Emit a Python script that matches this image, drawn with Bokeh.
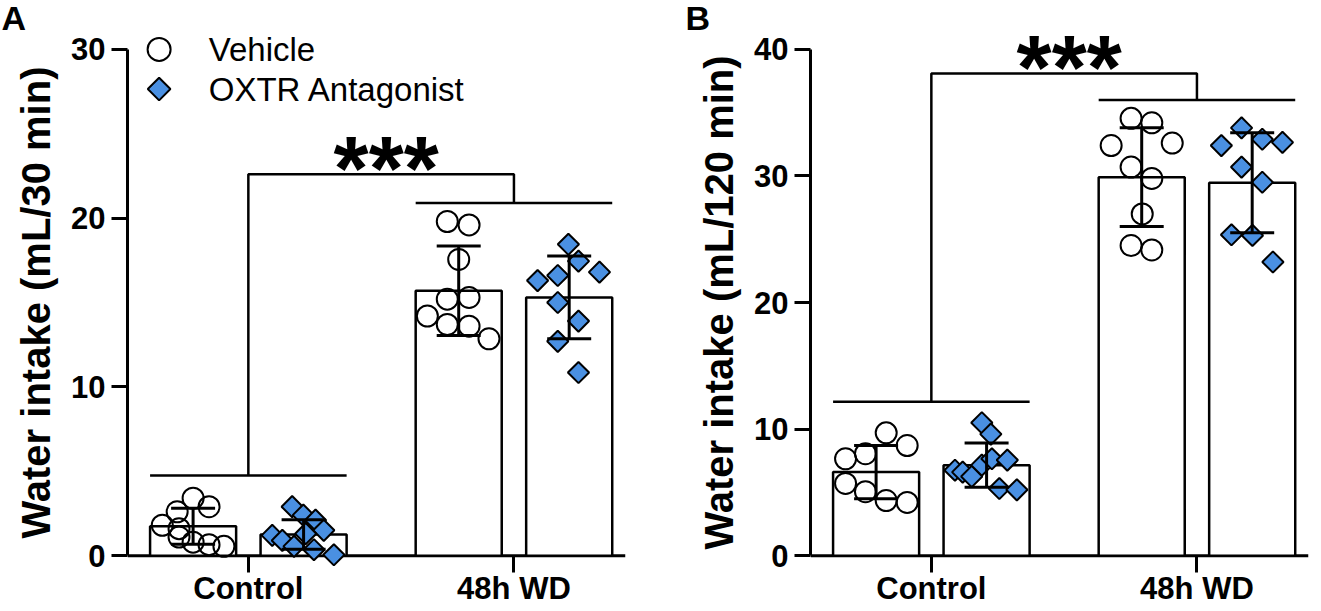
import numpy as np
from bokeh.plotting import figure
from bokeh.models import (ColumnDataSource, FixedTicker, Span, Whisker, TeeHead, Range1d)
from bokeh.layouts import row
from bokeh.embed import file_html
from bokeh.resources import INLINE
from bokeh.core.properties import value

groups = ["Control", "48h WD"]
series = ["Vehicle", "OXTR Antagonist"]

# ---------------- Panel A: Water intake (mL/30 min) ----------------
a_veh_control = [3.4, 2.9, 2.6, 1.8, 1.6, 0.8, 0.65, 0.55, 1.1]
a_veh_control_jitter = [0.0, 0.06, -0.06, -0.116, -0.053, 0.0, 0.06, 0.116, -0.053]
a_veh_wd = [19.8, 19.6, 17.55, 15.2, 15.3, 14.2, 13.7, 13.6, 12.85]
a_veh_wd_jitter = [-0.043, 0.039, 0.0, -0.043, 0.039, -0.118, -0.043, 0.039, 0.114]
a_ox_control = [2.9, 2.4, 2.1, 1.5, 1.2, 0.9, 0.55, 1.3, 0.35, 0.05]
a_ox_control_jitter = [-0.043, -0.001, 0.045, 0.076, -0.118, -0.08, -0.036, 0.008, 0.039, 0.114]
a_ox_wd = [18.45, 17.45, 16.8, 16.3, 16.6, 15.0, 13.9, 12.7, 10.85]
a_ox_wd_jitter = [-0.003, 0.035, 0.114, -0.119, -0.043, -0.043, 0.035, -0.043, 0.035]
a_veh_mean = [1.74, 15.7]
a_veh_sd = [1.07, 2.65]
a_ox_mean = [1.25, 15.3]
a_ox_sd = [0.87, 2.45]
a_bracket_groups = [4.75, 20.9]
a_bracket_top = 22.6
a_yticks = [0, 10, 20, 30]

# ---------------- Panel B: Water intake (mL/120 min) ----------------
b_veh_control = [9.7, 8.7, 7.65, 8.05, 5.7, 5.05, 4.35, 4.2]
b_veh_control_jitter = [0.038, 0.117, -0.115, -0.04, -0.115, -0.04, 0.038, 0.117]
b_veh_wd = [34.55, 34.2, 32.4, 32.6, 30.7, 29.8, 27.0, 24.5, 24.15]
b_veh_wd_jitter = [-0.04, 0.038, -0.115, 0.115, -0.04, 0.038, 0.002, -0.04, 0.038]
b_ox_control = [10.5, 9.6, 6.75, 6.6, 6.25, 7.15, 7.65, 7.55, 5.3, 5.2]
b_ox_control_jitter = [-0.018, 0.016, -0.119, -0.09, -0.056, -0.018, 0.02, 0.078, 0.048, 0.114]
b_ox_wd = [33.8, 32.9, 32.65, 32.4, 30.7, 29.5, 25.35, 25.3, 23.2]
b_ox_wd_jitter = [-0.04, 0.038, 0.114, -0.116, -0.04, 0.038, -0.078, 0.001, 0.078]
b_veh_mean = [6.6, 29.9]
b_veh_sd = [2.1, 3.9]
b_ox_mean = [7.15, 29.46]
b_ox_sd = [1.75, 3.95]
b_bracket_groups = [12.15, 36.0]
b_bracket_top = 38.1
b_yticks = [0, 10, 20, 30, 40]

FONT = "Liberation Sans"
BLUE = "#4A90E2"
BAR_OFFSET = 0.208
BAR_WIDTH = 0.324
FRAME_W = 498
HEIGHT = 608
TOP_BORDER = 31
BOTTOM_BORDER = 33
PX_TICK = 17.0  # px from x-axis line to frame bottom / from y max to frame top


def make_panel(letter, ylabel, yticks, ppu, veh_pts, veh_jit, ox_pts, ox_jit,
               veh_mean, veh_sd, ox_mean, ox_sd, br_groups, br_top,
               left_border, right_border, title_offset, legend=False):
    ymax = yticks[-1]
    pad = PX_TICK / ppu
    p = figure(width=left_border + FRAME_W + right_border, height=HEIGHT,
               x_range=Range1d(-0.455, 1.42), y_range=Range1d(-pad, ymax + pad),
               output_backend="svg", toolbar_location=None,
               min_border_left=left_border, min_border_right=right_border,
               min_border_top=TOP_BORDER, min_border_bottom=BOTTOM_BORDER)
    p.outline_line_color = None
    p.xgrid.visible = False
    p.ygrid.visible = False
    p.background_fill_color = None
    p.border_fill_color = "white"

    p.title.text = letter
    p.title.align = "left"
    p.title.offset = title_offset
    p.title.standoff = -8
    p.title.text_font = FONT
    p.title.text_font_style = "bold"
    p.title.text_font_size = "34px"
    p.title.text_color = "black"

    gx = list(range(len(groups)))

    # bars
    bar_src = ColumnDataSource(dict(
        x=[g - BAR_OFFSET for g in gx] + [g + BAR_OFFSET for g in gx],
        top=list(veh_mean) + list(ox_mean)))
    p.vbar(x="x", top="top", bottom=0, width=BAR_WIDTH, source=bar_src,
           fill_color="white", line_color="black", line_width=2.5)

    # points
    vx, vy, ox, oy = [], [], [], []
    for g in gx:
        vx += [g - BAR_OFFSET + j for j in veh_jit[g]]
        vy += list(veh_pts[g])
        ox += [g + BAR_OFFSET + j for j in ox_jit[g]]
        oy += list(ox_pts[g])
    p.scatter(vx, vy, marker="circle", size=21, fill_color=None,
              line_color="black", line_width=2)
    p.scatter(ox, oy, marker="square", size=15, angle=np.pi / 4,
              fill_color=BLUE, line_color="black", line_width=2)

    # mean +/- SD
    means = list(veh_mean) + list(ox_mean)
    sds = list(veh_sd) + list(ox_sd)
    err_src = ColumnDataSource(dict(
        x=bar_src.data["x"],
        upper=[m + s for m, s in zip(means, sds)],
        lower=[m - s for m, s in zip(means, sds)]))
    w = Whisker(source=err_src, base="x", upper="upper", lower="lower",
                line_color="black", line_width=3, level="annotation",
                upper_head=TeeHead(size=44, line_width=3, line_color="black"),
                lower_head=TeeHead(size=44, line_width=3, line_color="black"))
    p.add_layout(w)

    # x axis line at y = 0
    p.add_layout(Span(location=0, dimension="width", line_color="black",
                      line_width=3, level="underlay"))

    # significance bracket
    half = BAR_OFFSET + BAR_WIDTH / 2
    xs = [[gx[0] - half, gx[0] + half],
          [gx[0], gx[0], gx[1], gx[1]],
          [gx[1] - half, gx[1] + half]]
    ys = [[br_groups[0], br_groups[0]],
          [br_groups[0], br_top, br_top, br_groups[1]],
          [br_groups[1], br_groups[1]]]
    p.multi_line(xs, ys, line_color="black", line_width=2.5)
    p.text(x=[(gx[0] + gx[1]) / 2], y=[br_top], text=["***"],
           text_align="center", text_baseline="alphabetic", y_offset=-5, x_offset=5,
           text_font=value(FONT), text_font_style="bold",
           text_font_size="90px", text_color="black")

    # legend (drawn as glyphs so the diamond keeps its 45 degree rotation)
    if legend:
        leg_mark_x = -0.336
        leg_text_x = -0.149
        leg_y = [ymax, ymax - 40.0 / ppu]
        p.scatter([leg_mark_x], [leg_y[0]], marker="circle", size=23, fill_color=None,
                  line_color="black", line_width=2)
        p.scatter([leg_mark_x], [leg_y[1]], marker="square", size=16, angle=np.pi / 4,
                  fill_color=BLUE, line_color="black", line_width=2)
        p.text(x=[leg_text_x, leg_text_x], y=leg_y, text=series,
               text_align="left", text_baseline="middle",
               text_font=value(FONT), text_font_size="33px", text_color="black")

    # axes
    ya = p.yaxis[0]
    ya.ticker = FixedTicker(ticks=yticks)
    ya.bounds = (0, ymax)
    ya.axis_line_width = 3
    ya.major_tick_line_width = 3
    ya.major_tick_out = 16
    ya.major_tick_in = 0
    ya.minor_tick_out = 0
    ya.minor_tick_in = 0
    ya.major_label_text_font = FONT
    ya.major_label_text_font_style = "bold"
    ya.major_label_text_font_size = "31px"
    ya.major_label_text_color = "black"
    ya.major_label_standoff = 6
    ya.axis_label = ylabel
    ya.axis_label_text_font = FONT
    ya.axis_label_text_font_style = "bold"
    ya.axis_label_text_font_size = "40px"
    ya.axis_label_text_color = "black"
    ya.axis_label_standoff = 10

    xa = p.xaxis[0]
    xa.ticker = FixedTicker(ticks=gx)
    xa.major_label_overrides = {g: name for g, name in zip(gx, groups)}
    xa.axis_line_color = None
    xa.major_tick_line_width = 3
    xa.major_tick_in = int(PX_TICK)
    xa.major_tick_out = 0
    xa.minor_tick_out = 0
    xa.minor_tick_in = 0
    xa.major_label_text_font = FONT
    xa.major_label_text_font_style = "bold"
    xa.major_label_text_font_size = "31px"
    xa.major_label_text_color = "black"
    xa.major_label_standoff = -2
    return p


pA = make_panel("A", "Water intake (mL/30 min)", a_yticks, 17.0,
                [a_veh_control, a_veh_wd], [a_veh_control_jitter, a_veh_wd_jitter],
                [a_ox_control, a_ox_wd], [a_ox_control_jitter, a_ox_wd_jitter],
                a_veh_mean, a_veh_sd, a_ox_mean, a_ox_sd,
                a_bracket_groups, a_bracket_top, 127, 59, -126, legend=True)

pB = make_panel("B", "Water intake (mL/120 min)", b_yticks, 12.75,
                [b_veh_control, b_veh_wd], [b_veh_control_jitter, b_veh_wd_jitter],
                [b_ox_control, b_ox_wd], [b_ox_control_jitter, b_ox_wd_jitter],
                b_veh_mean, b_veh_sd, b_ox_mean, b_ox_sd,
                b_bracket_groups, b_bracket_top, 126, 5, -125)

layout = row(pA, pB)
open("out.html", "w").write(file_html(layout, INLINE))
